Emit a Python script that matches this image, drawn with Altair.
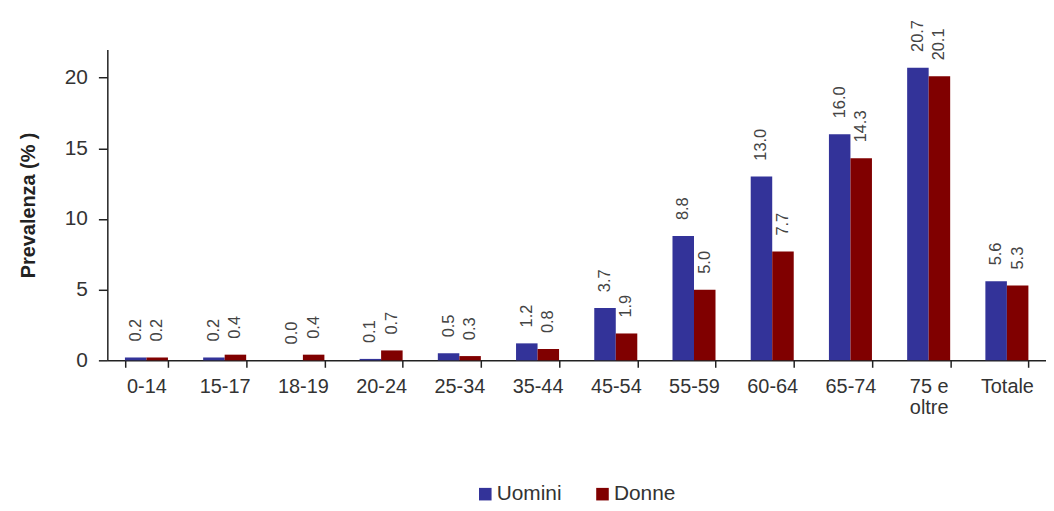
import altair as alt
import pandas as pd

categories = ["0-14", "15-17", "18-19", "20-24", "25-34", "35-44", "45-54",
              "55-59", "60-64", "65-74", "75 e oltre", "Totale"]
uomini = [0.2, 0.2, 0.0, 0.1, 0.5, 1.2, 3.7, 8.8, 13.0, 16.0, 20.7, 5.6]
donne = [0.2, 0.4, 0.4, 0.7, 0.3, 0.8, 1.9, 5.0, 7.7, 14.3, 20.1, 5.3]
series = ["Uomini", "Donne"]
colors = ["#333399", "#800000"]

rows = []
for c, u, d in zip(categories, uomini, donne):
    rows.append({"cat": c, "serie": "Uomini", "val": u})
    rows.append({"cat": c, "serie": "Donne", "val": d})
df = pd.DataFrame(rows)

FONT = "Liberation Sans"
AX = "#222222"

x = alt.X("cat:N", sort=categories, title=None,
          scale=alt.Scale(paddingInner=0.45, paddingOuter=0.225),
          axis=alt.Axis(labelAngle=0, tickBand="extent", labelFontSize=20,
                        labelColor="#333333", labelFont=FONT, tickSize=7,
                        labelPadding=9, domainColor=AX, tickColor=AX,
                        domainWidth=1.5, tickWidth=1.5,
                        labelExpr="datum.value == '75 e oltre' ? ['75 e', 'oltre'] : datum.value",
                        labelLineHeight=22))
y = alt.Y("val:Q", title="Prevalenza (% )",
          scale=alt.Scale(domain=[0, 22], nice=False),
          axis=alt.Axis(values=[0, 5, 10, 15, 20], grid=False, labelFontSize=21,
                        labelColor="#333333", labelFont=FONT, tickSize=9,
                        labelPadding=11, titleFontSize=20, titleFont=FONT,
                        titleFontWeight="bold", titleColor="#222222", titlePadding=26,
                        domainColor=AX, tickColor=AX, domainWidth=1.5, tickWidth=1.5))
xo = alt.XOffset("serie:N", sort=series, scale=alt.Scale(paddingInner=0))
color = alt.Color("serie:N", sort=series, title=None,
                  scale=alt.Scale(domain=series, range=colors),
                  legend=alt.Legend(orient="none", legendX=370, legendY=437,
                                    direction="horizontal", symbolType="square",
                                    symbolSize=160, labelFontSize=21, labelFont=FONT,
                                    labelColor="#333333", columnPadding=30,
                                    labelOffset=1, symbolStrokeWidth=0))

base = alt.Chart(df)
bars = base.mark_bar().encode(x=x, y=y, xOffset=xo, color=color)
labels = base.mark_text(angle=270, align="left", baseline="middle", dx=16,
                        fontSize=16.5, font=FONT, color="#444444").encode(
    x=x, y=y, xOffset=xo, text=alt.Text("val:Q", format=".1f"))

chart = alt.layer(bars, labels).properties(
    width=945, height=313,
    autosize=alt.AutoSizeParams(type="none"),
    padding={"left": 100, "top": 40, "right": 0, "bottom": 150},
).configure(background="white", view={"stroke": None, "strokeWidth": 0})

chart.save("out.html", embed_options={"renderer": "svg", "actions": False})
